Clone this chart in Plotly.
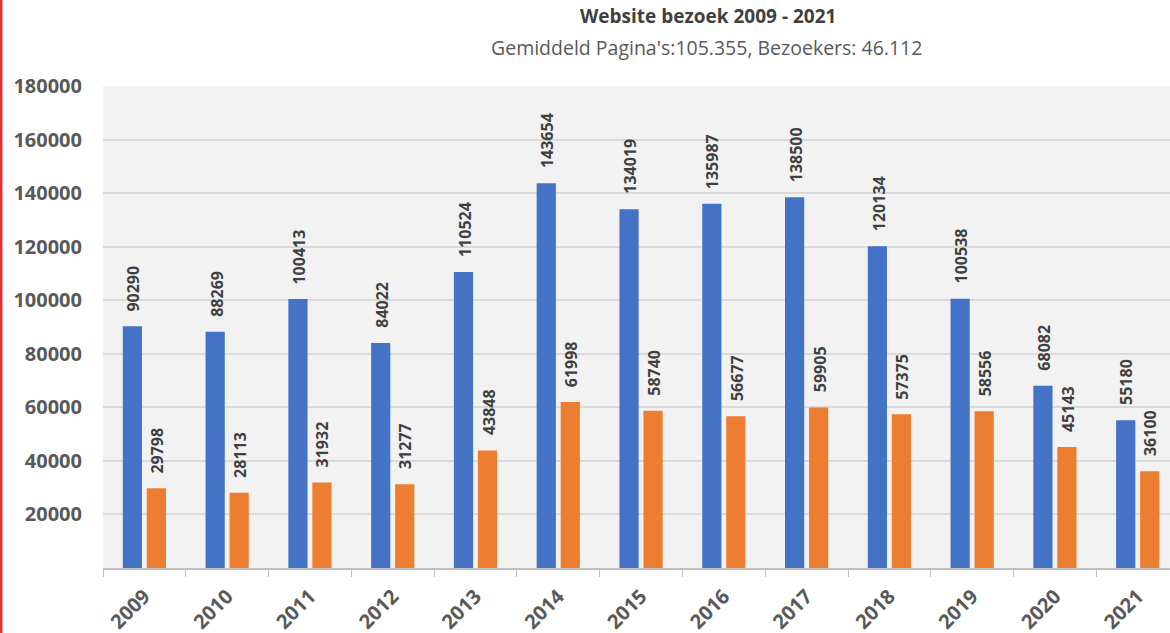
import plotly.graph_objects as go

years = ["2009", "2010", "2011", "2012", "2013", "2014", "2015",
         "2016", "2017", "2018", "2019", "2020", "2021"]
paginas = [90290, 88269, 100413, 84022, 110524, 143654, 134019,
           135987, 138500, 120134, 100538, 68082, 55180]
bezoekers = [29798, 28113, 31932, 31277, 43848, 61998, 58740,
             56677, 59905, 57375, 58556, 45143, 36100]
y_ticks = [20000, 40000, 60000, 80000, 100000, 120000, 140000, 160000, 180000]

title_text = "Website bezoek 2009 - 2021"
subtitle_text = "Gemiddeld Pagina's:105.355, Bezoekers: 46.112"

BLUE = "#4472C4"
ORANGE = "#ED7D31"
FONT = "Open Sans"

W, H = 1170, 633
ML, MR, MT, MB = 103, 0, 86, 64.5
PW = W - ML - MR
PH = H - MT - MB

fig = go.Figure()
fig.add_trace(go.Bar(x=years, y=paginas, name="Pagina's",
                     marker=dict(color=BLUE, line=dict(width=0))))
fig.add_trace(go.Bar(x=years, y=bezoekers, name="Bezoekers",
                     marker=dict(color=ORANGE, line=dict(width=0))))

annotations = []
for series, shift in ((paginas, -11), (bezoekers, 13)):
    for i, v in enumerate(series):
        annotations.append(dict(
            x=i, y=v, xref="x", yref="y", text=str(v), showarrow=False,
            textangle=-90, xanchor="center", yanchor="bottom",
            xshift=shift, yshift=13,
            font=dict(family=FONT, size=16, color="#404040", weight="bold"),
        ))

annotations.append(dict(
    x=(708 - ML) / PW, y=(H - MB - 16) / PH, xref="paper", yref="paper",
    text="<b>" + title_text + "</b>", showarrow=False,
    xanchor="center", yanchor="middle",
    font=dict(family=FONT, size=19, color="#404040"),
))
annotations.append(dict(
    x=(706 - ML) / PW, y=(H - MB - 47) / PH, xref="paper", yref="paper",
    text=subtitle_text, showarrow=False,
    xanchor="center", yanchor="middle",
    font=dict(family=FONT, size=19.5, color="#595959"),
))

fig.update_layout(
    width=W, height=H, autosize=False,
    margin=dict(l=ML, r=MR, t=MT, b=MB, pad=0),
    paper_bgcolor="white",
    plot_bgcolor="#F2F2F2",
    barmode="group",
    bargap=0.42,
    bargroupgap=0.2,
    showlegend=False,
    annotations=annotations,
    shapes=[dict(type="line", xref="paper", yref="paper",
                 x0=(1.2 - ML) / PW, x1=(1.2 - ML) / PW,
                 y0=-MB / PH - 0.05, y1=(H - MB) / PH + 0.05,
                 line=dict(color="#E03030", width=2.5))],
    xaxis=dict(
        type="category",
        range=[-0.5, 12.39],
        tickangle=-45,
        tickson="boundaries",
        ticks="outside", ticklen=7, tickwidth=1, tickcolor="#BFBFBF",
        showline=True, linecolor="#BFBFBF", linewidth=1.5,
        showgrid=False,
        ticklabelstandoff=7,
        tickfont=dict(family=FONT, size=20, color="#595959", weight="bold"),
        fixedrange=True,
    ),
    yaxis=dict(
        range=[0, 180000],
        tickvals=y_ticks,
        ticktext=[str(t) for t in y_ticks],
        showgrid=True, gridcolor="#D9D9D9", gridwidth=1.5,
        zeroline=False, showline=False, ticks="",
        ticklabelstandoff=20,
        tickfont=dict(family=FONT, size=20, color="#595959", weight="bold"),
        fixedrange=True,
    ),
)

fig.write_html(
    "out.html",
    config={"displayModeBar": False},
    post_script="document.body.style.margin='0';document.body.style.overflow='hidden';",
)
